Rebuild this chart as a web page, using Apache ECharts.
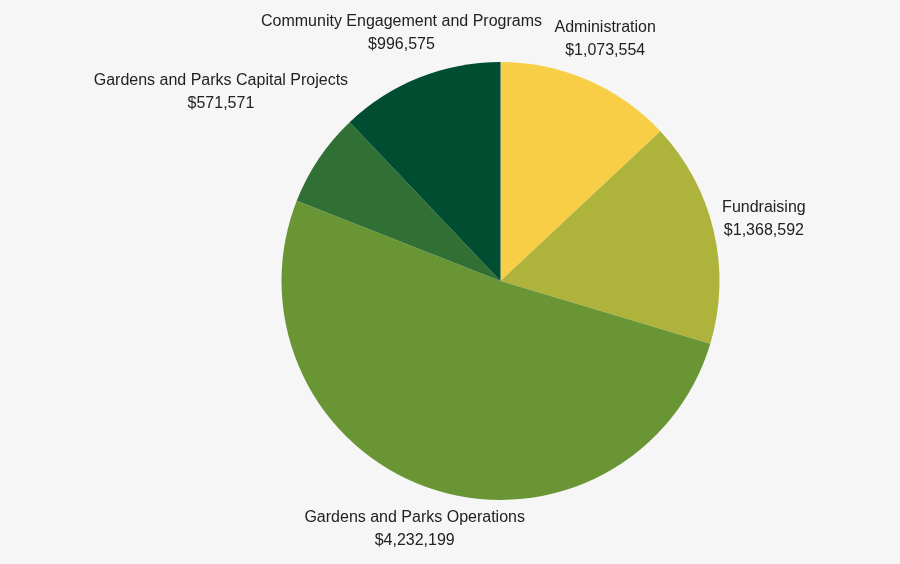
<!DOCTYPE html>
<html>
<head>
<meta charset="utf-8">
<script src="https://cdn.jsdelivr.net/npm/echarts@6/dist/echarts.min.js"></script>
<style>
html,body{margin:0;padding:0;background:#f6f6f6;}
#chart{width:900px;height:564px;}
</style>
</head>
<body>
<div id="chart"></div>
<script>
const categories = ['Administration', 'Fundraising', 'Gardens and Parks Operations', 'Gardens and Parks Capital Projects', 'Community Engagement and Programs'];
const values = [1073554, 1368592, 4232199, 571571, 996575];
const colors = ['#f9ce47', '#aeb33b', '#6a9535', '#317035', '#014d31'];

const CX = 500.5, CY = 281, R = 219, GAP = 6;
const total = values.reduce((a, b) => a + b, 0);
const midAngles = [];
let acc = 0;
values.forEach(v => { midAngles.push((acc + v / 2) / total * 2 * Math.PI); acc += v; });

function fmt(v) { return '$' + v.toString().replace(/\B(?=(\d{3})+(?!\d))/g, ','); }

const chart = echarts.init(document.getElementById('chart'));
chart.setOption({
  backgroundColor: '#f6f6f6',
  animation: false,
  series: [{
    type: 'pie',
    center: [CX, CY],
    radius: R,
    startAngle: 90,
    clockwise: true,
    avoidLabelOverlap: false,
    data: categories.map((c, i) => ({ name: c, value: values[i], itemStyle: { color: colors[i] } })),
    label: {
      show: true,
      position: 'outside',
      formatter: p => p.name + '\n' + fmt(p.value),
      color: '#222222',
      fontSize: 16,
      lineHeight: 23,
      fontFamily: '"Liberation Sans", Arial, sans-serif'
    },
    labelLine: { show: false },
    emphasis: { disabled: true },
    labelLayout: function (params) {
      const a = midAngles[params.dataIndex];
      const ux = Math.sin(a), uy = -Math.cos(a);
      const w = params.labelRect.width, h = params.labelRect.height;
      const target = R + GAP;
      function dist(d) {
        const cx = ux * d, cy = uy * d;
        const px = Math.max(cx - w / 2, Math.min(0, cx + w / 2));
        const py = Math.max(cy - h / 2, Math.min(0, cy + h / 2));
        return Math.hypot(px, py);
      }
      let lo = 0, hi = 1000;
      for (let k = 0; k < 60; k++) {
        const m = (lo + hi) / 2;
        if (dist(m) < target) lo = m; else hi = m;
      }
      return { x: CX + ux * lo, y: CY + uy * lo, align: 'center', verticalAlign: 'middle' };
    }
  }]
});
</script>
</body>
</html>
